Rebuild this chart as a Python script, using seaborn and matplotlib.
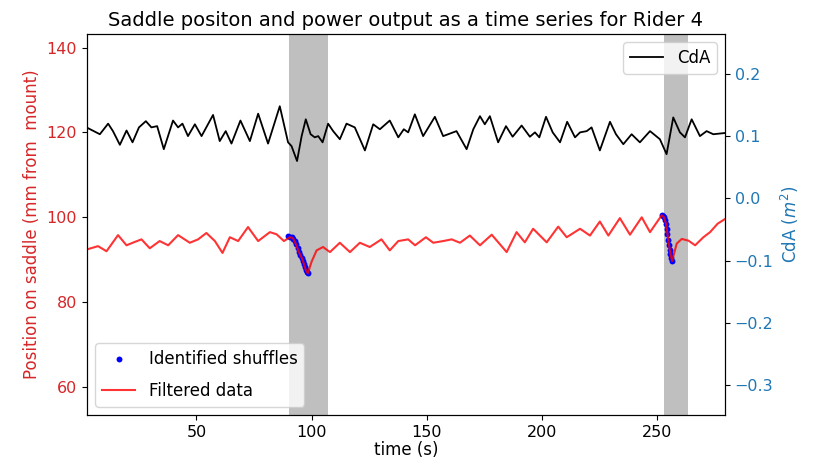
import matplotlib
matplotlib.use("Agg")
import matplotlib.pyplot as plt
import seaborn as sns

plt.rcParams['font.size'] = 12
plt.rcParams['axes.titlesize'] = 14
plt.rcParams['axes.labelsize'] = 12
plt.rcParams['xtick.labelsize'] = 11.5
plt.rcParams['ytick.labelsize'] = 11.5
plt.rcParams['legend.fontsize'] = 12

# CdA time series (black line, right axis)
cda_time = [2.2, 8.0, 11.6, 13.7, 16.7, 19.6, 22.2, 25.0, 28.0, 30.4, 32.9, 35.8,
            39.8, 42.0, 43.9, 46.3, 49.3, 52.2, 57.2, 60.1, 62.7, 65.2, 69.1, 73.2,
            76.8, 81.1, 86.2, 89.8, 91.3, 93.7, 95.7, 97.5, 99.6, 101.4, 102.9, 104.8,
            107.2, 109.4, 112.3, 115.2, 118.8, 123.2, 126.8, 129.7, 134.0, 137.7, 140.1,
            142.0, 144.9, 148.5, 153.6, 157.2, 163.0, 167.4, 170.3, 173.2, 175.3, 177.5,
            181.1, 184.5, 187.4, 191.3, 194.9, 197.1, 199.0, 201.9, 204.8, 208.0, 211.1,
            214.5, 216.7, 219.6, 221.7, 225.3, 229.7, 232.3, 235.5, 239.1, 242.7, 247.1,
            251.4, 254.3, 257.2, 260.1, 262.3, 265.2, 268.8, 271.7, 274.6, 279.7]
cda_vals = [0.114, 0.103, 0.120, 0.108, 0.086, 0.109, 0.090, 0.114, 0.124, 0.114, 0.116, 0.079,
            0.125, 0.114, 0.120, 0.100, 0.119, 0.100, 0.134, 0.092, 0.108, 0.088, 0.125, 0.092,
            0.136, 0.088, 0.148, 0.090, 0.084, 0.060, 0.100, 0.127, 0.103, 0.098, 0.100, 0.090,
            0.120, 0.108, 0.095, 0.120, 0.114, 0.077, 0.119, 0.111, 0.125, 0.098, 0.111,
            0.106, 0.135, 0.100, 0.131, 0.100, 0.108, 0.079, 0.111, 0.132, 0.119, 0.132,
            0.090, 0.116, 0.099, 0.117, 0.099, 0.106, 0.098, 0.131, 0.106, 0.090, 0.123,
            0.098, 0.106, 0.108, 0.114, 0.077, 0.123, 0.103, 0.087, 0.103, 0.090, 0.108,
            0.095, 0.071, 0.130, 0.106, 0.098, 0.127, 0.100, 0.108, 0.103, 0.105]

# filtered saddle position (red line, left axis)
saddle_time = [2.2, 7.2, 10.9, 15.9, 19.6, 23.2, 26.1, 29.7, 34.0, 37.7, 42.0, 47.1,
               50.7, 54.3, 58.0, 61.3, 64.5, 68.1, 72.4, 76.8, 81.9, 84.8, 88.0, 90.6,
               91.9, 93.2, 94.5, 95.8, 96.7, 97.5, 98.4, 100.0, 102.2, 105.0, 108.0, 112.3,
               116.7, 121.0, 125.3, 130.4, 134.0, 137.7, 142.0, 145.0, 149.7, 152.9, 157.2,
               160.9, 164.5, 168.8, 173.2, 178.3, 184.8, 189.1, 192.7, 196.3, 202.2, 207.2,
               210.9, 216.7, 221.0, 225.3, 229.0, 234.0, 238.4, 243.5, 247.1, 252.2, 253.2,
               254.1, 254.7, 255.4, 256.0, 256.7, 258.7, 260.9, 263.8, 266.7, 270.3, 273.2,
               276.5, 279.7]
saddle_vals = [92.4, 93.2, 92.0, 95.8, 93.4, 94.2, 94.8, 92.7, 94.4, 93.4, 95.8, 94.0,
               94.8, 96.3, 94.4, 91.6, 95.3, 94.4, 97.7, 94.4, 96.5, 96.0, 94.4, 95.3,
               95.1, 93.7, 91.8, 90.4, 89.0, 87.6, 86.8, 89.5, 92.2, 93.0, 91.8, 94.0,
               91.8, 94.0, 93.0, 94.8, 92.2, 94.4, 94.8, 93.4, 95.3, 94.0, 94.4,
               94.8, 94.0, 95.7, 93.4, 95.9, 91.8, 96.5, 94.1, 97.3, 94.1, 97.8,
               95.3, 97.3, 95.7, 99.0, 95.7, 99.8, 95.9, 100.0, 96.5, 100.5, 100.0,
               98.4, 96.0, 93.4, 91.3, 89.7, 93.8, 94.9, 94.5, 93.4, 95.3, 96.5,
               98.5, 99.6]

# identified shuffles (blue dots)
shuffle_time = [89.8, 90.6, 91.3, 91.9, 92.6, 93.2, 93.9, 94.5, 95.2, 95.8, 96.3, 96.7,
                97.1, 97.5, 98.0, 98.4,
                252.2, 252.7, 253.2, 253.7, 254.1, 254.4, 254.7, 255.0, 255.4, 255.7,
                256.0, 256.4, 256.7]
shuffle_vals = [95.5, 95.4, 95.3, 95.0, 94.5, 93.7, 92.7, 91.8, 91.1, 90.4, 89.7, 89.0,
                88.3, 87.6, 87.1, 86.8,
                100.5, 100.3, 100.0, 99.3, 98.4, 97.2, 96.0, 94.7, 93.4, 92.3,
                91.3, 90.4, 89.7]

# shuffle windows (s)
shuffle_windows = [(90.2, 107.0), (253.2, 263.8)]

fig = plt.figure(figsize=(8.15, 4.62), dpi=100)
ax1 = fig.add_axes([0.1067, 0.1017, 0.7829, 0.8247])
ax2 = ax1.twinx()

for start, end in shuffle_windows:
    ax1.axvspan(start, end, color='gray', alpha=0.5, lw=0, zorder=0)

sns.scatterplot(x=shuffle_time, y=shuffle_vals, ax=ax1, color='blue', s=18,
                linewidth=0, marker='o', label='Identified shuffles', zorder=3)
sns.lineplot(x=saddle_time, y=saddle_vals, ax=ax1, color='red', alpha=0.8,
             lw=1.5, estimator=None, sort=False, label='Filtered data', zorder=4)
sns.lineplot(x=cda_time, y=cda_vals, ax=ax2, color='black', lw=1.3,
             estimator=None, sort=False, label='CdA')

ax1.set_xlim(2.4, 279.7)
ax1.set_ylim(53.4, 143.2)
ax2.set_ylim(-0.348, 0.264)
ax1.set_xticks([50, 100, 150, 200, 250])
ax1.set_yticks([60, 80, 100, 120, 140])
ax2.set_yticks([-0.3, -0.2, -0.1, 0.0, 0.1, 0.2])

ax1.set_xlabel('time (s)', labelpad=1)
ax1.set_ylabel('Position on saddle (mm from  mount)', color='tab:red')
ax2.set_ylabel('CdA ($m^2$)', color='tab:blue')
ax1.tick_params(axis='y', labelcolor='tab:red')
ax2.tick_params(axis='y', labelcolor='tab:blue')
ax1.set_title('Saddle positon and power output as a time series for Rider 4')

ax1.legend(loc='lower left', labelspacing=0.85)
ax2.legend(loc='upper right')

fig.savefig('out.png', dpi=100)
